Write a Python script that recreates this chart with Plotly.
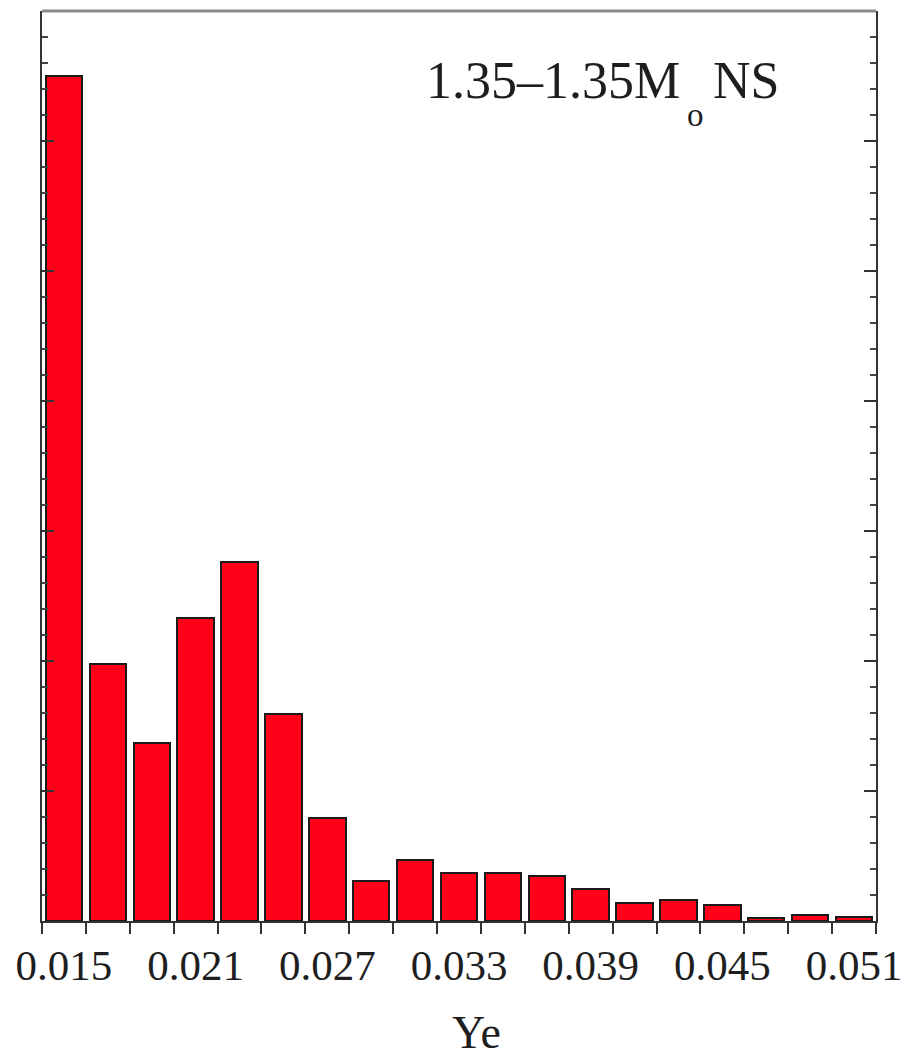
import plotly.graph_objects as go

# Histogram of electron fraction Ye in the ejecta (bin centres, width 0.002)
ye_centers = [0.015, 0.017, 0.019, 0.021, 0.023, 0.025, 0.027, 0.029, 0.031, 0.033,
              0.035, 0.037, 0.039, 0.041, 0.043, 0.045, 0.047, 0.049, 0.051]
mass_fraction = [6.50, 1.98, 1.37, 2.33, 2.76, 1.59, 0.79, 0.31, 0.47, 0.37,
                 0.37, 0.35, 0.25, 0.14, 0.16, 0.12, 0.02, 0.05, 0.03]
bin_edges = [0.014, 0.016, 0.018, 0.020, 0.022, 0.024, 0.026, 0.028, 0.030, 0.032,
             0.034, 0.036, 0.038, 0.040, 0.042, 0.044, 0.046, 0.048, 0.050, 0.052]
label_vals = [0.015, 0.021, 0.027, 0.033, 0.039, 0.045, 0.051]
label_text = ["0.015", "0.021", "0.027", "0.033", "0.039", "0.045", "0.051"]

FONT = "Liberation Serif"
INK = "#1e1e1e"

W, H = 902, 1057
ML, MR, MT, MB = 42, 26, 11, 136
PW, PH = W - ML - MR, H - MT - MB


def px_x(px):
    return (px - ML) / PW


def px_y(py):
    return (H - MB - py) / PH


fig = go.Figure()
fig.add_trace(go.Bar(
    x=ye_centers, y=mass_fraction, width=0.00166,
    marker=dict(color="#ff0019", line=dict(color="#1a1a1a", width=2)),
    showlegend=False,
))
# invisible trace to activate the label axis
fig.add_trace(go.Scatter(x=[label_vals[0]], y=[0], xaxis="x2", mode="markers",
                         marker=dict(opacity=0), showlegend=False, hoverinfo="skip"))

fig.update_layout(
    width=W, height=H,
    margin=dict(l=ML, r=MR, t=MT, b=MB, autoexpand=False),
    plot_bgcolor="white", paper_bgcolor="white",
    font=dict(family=FONT, color=INK),
    xaxis=dict(
        range=[0.014, 0.052], tickvals=bin_edges, showticklabels=False,
        ticks="outside", ticklen=11, tickwidth=2, tickcolor="#333",
        showline=True, linecolor="#333", linewidth=2, showgrid=False, zeroline=False,
        automargin=False,
    ),
    xaxis2=dict(
        overlaying="x", matches="x", side="bottom", range=[0.014, 0.052],
        tickvals=label_vals, ticktext=label_text, ticks="", ticklen=0,
        tickfont=dict(family=FONT, size=43, color=INK),
        ticklabelstandoff=15, ticklabeloverflow="allow",
        showline=False, showgrid=False, zeroline=False, automargin=False,
    ),
    yaxis=dict(
        range=[0, 7], dtick=1, showticklabels=False,
        ticks="inside", ticklen=12, tickwidth=2, tickcolor="#333",
        minor=dict(ticks="inside", ticklen=6, dtick=0.2, tickwidth=2, tickcolor="#444"),
        showline=True, linecolor="#333", linewidth=2, mirror="ticks",
        showgrid=False, zeroline=False, automargin=False,
    ),
    bargap=0,
)

# top frame line
fig.add_shape(type="line", xref="paper", yref="paper", x0=0, x1=1, y0=1, y1=1,
              line=dict(color="#8a8a8a", width=3))

# system label: 1.35–1.35 M_sun NS
label_font = dict(family=FONT, size=52, color=INK)
fig.add_annotation(text="1.35–1.35M", xref="paper", yref="paper",
                   x=px_x(682), y=px_y(50), xanchor="right", yanchor="top",
                   showarrow=False, font=label_font)
fig.add_annotation(text="o", xref="paper", yref="paper",
                   x=px_x(695), y=px_y(115), xanchor="center", yanchor="middle",
                   showarrow=False, font=dict(family=FONT, size=33, color=INK))
fig.add_annotation(text="NS", xref="paper", yref="paper",
                   x=px_x(711), y=px_y(50), xanchor="left", yanchor="top",
                   showarrow=False, font=label_font)

# axis title
fig.add_annotation(
    text="Ye", xref="paper", yref="paper",
    x=px_x(476), y=px_y(1060),
    xanchor="center", yanchor="bottom", showarrow=False,
    font=dict(family=FONT, size=46, color=INK),
)

fig.write_html("out.html")
